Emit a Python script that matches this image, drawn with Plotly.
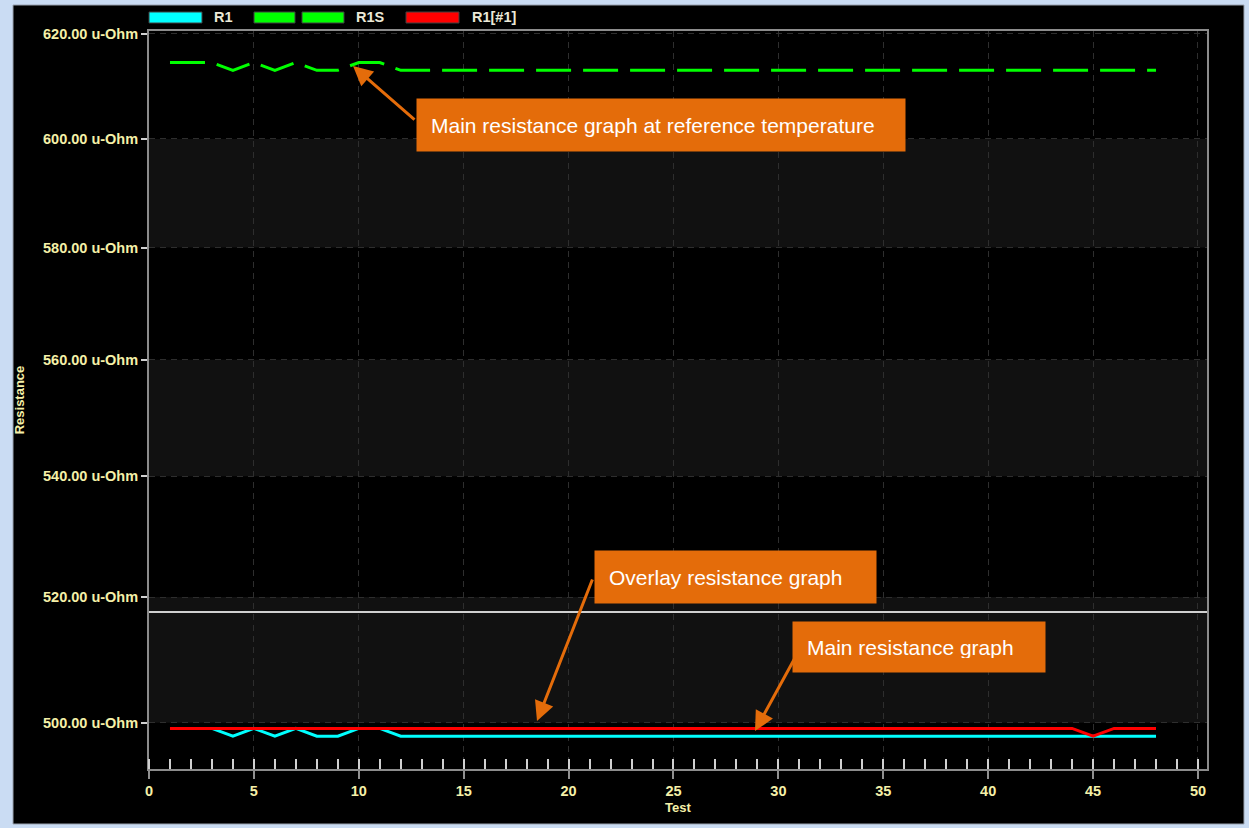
import math
import plotly.graph_objects as go

# Resistance per test (u-Ohm)
tests = list(range(1, 49))
r1 = [499.1, 499.1, 499.1, 497.9, 499.1, 497.9, 499.1, 497.9, 497.9, 499.1, 499.1, 497.9,
      497.9, 497.9, 497.9, 497.9, 497.9, 497.9, 497.9, 497.9, 497.9, 497.9, 497.9, 497.9,
      497.9, 497.9, 497.9, 497.9, 497.9, 497.9, 497.9, 497.9, 497.9, 497.9, 497.9, 497.9,
      497.9, 497.9, 497.9, 497.9, 497.9, 497.9, 497.9, 497.9, 497.9, 497.9, 497.9, 497.9]
r1s = [614.5, 614.5, 614.5, 613.0, 614.5, 613.0, 614.5, 613.0, 613.0, 614.5, 614.5, 613.0,
       613.0, 613.0, 613.0, 613.0, 613.0, 613.0, 613.0, 613.0, 613.0, 613.0, 613.0, 613.0,
       613.0, 613.0, 613.0, 613.0, 613.0, 613.0, 613.0, 613.0, 613.0, 613.0, 613.0, 613.0,
       613.0, 613.0, 613.0, 613.0, 613.0, 613.0, 613.0, 613.0, 613.0, 613.0, 613.0, 613.0]
r1_overlay = [499.1, 499.1, 499.1, 499.1, 499.1, 499.1, 499.1, 499.1, 499.1, 499.1, 499.1, 499.1,
              499.1, 499.1, 499.1, 499.1, 499.1, 499.1, 499.1, 499.1, 499.1, 499.1, 499.1, 499.1,
              499.1, 499.1, 499.1, 499.1, 499.1, 499.1, 499.1, 499.1, 499.1, 499.1, 499.1, 499.1,
              499.1, 499.1, 499.1, 499.1, 499.1, 499.1, 499.1, 499.1, 497.9, 499.1, 499.1, 499.1]
ref_level = 517.6
band_ranges = [(500, 520), (540, 560), (580, 600)]
y_ticks = [500, 520, 540, 560, 580, 600, 620]
y_labels = ["%.2f u-Ohm" % v for v in y_ticks]
x_ticks = [0, 5, 10, 15, 20, 25, 30, 35, 40, 45, 50]

W, H = 1249, 828
ML, MR, MT, MB = 149, 42, 31, 59
PW, PH = W - ML - MR, H - MT - MB


def px(x):
    return (x - ML) / PW


def py(y):
    return (H - MB - y) / PH


ORANGE = "#E46C0A"
TICKCOL = "#F5F0A8"
FONT = "Liberation Sans"

fig = go.Figure()
fig.add_trace(go.Scatter(x=tests, y=r1s, mode="lines", name="R1S",
                         line=dict(color="#00FF00", width=3, dash="35px,12px")))
fig.add_trace(go.Scatter(x=tests, y=r1, mode="lines", name="R1",
                         line=dict(color="#00FFFF", width=3)))
fig.add_trace(go.Scatter(x=tests, y=r1_overlay, mode="lines", name="R1[#1]",
                         line=dict(color="#FF0000", width=3)))

shapes = []
# window frame
shapes.append(dict(type="rect", xref="paper", yref="paper", layer="below",
                   x0=px(13), x1=px(1244), y0=py(824), y1=py(5),
                   fillcolor="black", line=dict(color="#9AA3B0", width=1)))
# alternating bands
for lo, hi in band_ranges:
    shapes.append(dict(type="rect", xref="paper", yref="y", layer="below",
                       x0=0, x1=1, y0=lo, y1=hi, fillcolor="#111111", line_width=0))
# reference line
shapes.append(dict(type="line", xref="paper", yref="y", x0=0, x1=1,
                   y0=ref_level, y1=ref_level, line=dict(color="#D0D0D0", width=2)))

# hand drawn legend like the app's
legend_items = [("R1", ["#00FFFF"], 149, 212), ("R1S", ["#00FF00", "#00FF00"], 254, 354),
                ("R1[#1]", ["#FF0000"], 406, 470)]
annotations = []
for name, cols, sx, tx in legend_items:
    if len(cols) == 1:
        boxes = [(sx, sx + 53)]
    else:
        boxes = [(sx, sx + 41), (sx + 48, sx + 90)]
    for (a, b), c in zip(boxes, cols):
        shapes.append(dict(type="rect", xref="paper", yref="paper",
                           x0=px(a), x1=px(b), y0=py(23), y1=py(12),
                           fillcolor=c, line=dict(color="#404040", width=1)))
    annotations.append(dict(text=name, xref="paper", yref="paper", x=px(tx), y=py(17.5),
                            xanchor="left", yanchor="middle", showarrow=False,
                            font=dict(family=FONT, size=14.5, color="#ECE9D8", weight="bold")))

# callout boxes
callouts = [("Main resistance graph at reference temperature", 416, 98, 488, 52),
            ("Overlay resistance graph", 594, 550, 281, 52),
            ("Main resistance graph", 792, 621, 252, 50)]
for txt, lx, ty, bw, bh in callouts:
    annotations.append(dict(text=txt, xref="paper", yref="paper", x=px(lx), y=py(ty),
                            xanchor="left", yanchor="top", showarrow=False, align="left",
                            width=bw - 28, height=bh - 28, borderpad=14, bgcolor=ORANGE,
                            font=dict(family=FONT, size=21, color="white")))
# arrows: tip, tail (pixels)
arrows = [((353, 66), (416, 121)), ((537, 721), (593, 578)), ((755, 731), (796, 656))]
for (tx, ty), (sx, sy) in arrows:
    annotations.append(dict(text="", xref="paper", yref="paper", x=px(tx), y=py(ty),
                            ax=sx - tx, ay=sy - ty, showarrow=True, arrowhead=2,
                            arrowsize=1.3, arrowwidth=3, arrowcolor=ORANGE, standoff=0))

tickfont = dict(family=FONT, size=14.5, color=TICKCOL, weight="bold")
fig.update_layout(
    width=W, height=H, margin=dict(l=ML, r=MR, t=MT, b=MB),
    paper_bgcolor="#CADCF3", plot_bgcolor="black",
    showlegend=False, shapes=shapes, annotations=annotations,
    xaxis=dict(range=[0, 50.43], tickvals=x_ticks, tickfont=tickfont,
               showgrid=True, gridcolor="#2E2E2E", griddash="6px,5px", zeroline=False,
               showline=True, linecolor="#8C8C8C", linewidth=2, mirror=True,
               ticks="outside", ticklen=8, tickcolor="#909090", tickwidth=1.5,
               minor=dict(dtick=1, tick0=0, ticks="inside", ticklen=10,
                          tickcolor="#D0D0D0", tickwidth=1.5, showgrid=False),
               title=dict(text="Test", standoff=4,
                          font=dict(family=FONT, size=13, color=TICKCOL, weight="bold"))),
    yaxis=dict(type="log", range=[math.log10(492.82), math.log10(620.58)],
               tickvals=y_ticks, ticktext=y_labels, tickfont=tickfont,
               showgrid=True, gridcolor="#2E2E2E", griddash="6px,5px", zeroline=False,
               showline=True, linecolor="#8C8C8C", linewidth=2, mirror=True,
               ticks="outside", ticklen=6, tickcolor="#D0D0D0", tickwidth=1.5,
               title=dict(text="Resistance", standoff=15,
                          font=dict(family=FONT, size=13, color=TICKCOL, weight="bold"))),
)

# drop the page's default body margin so the figure sits at the window corner
fig.write_html("out.html", config={"displayModeBar": False},
               post_script="document.body.style.margin='0px';")
